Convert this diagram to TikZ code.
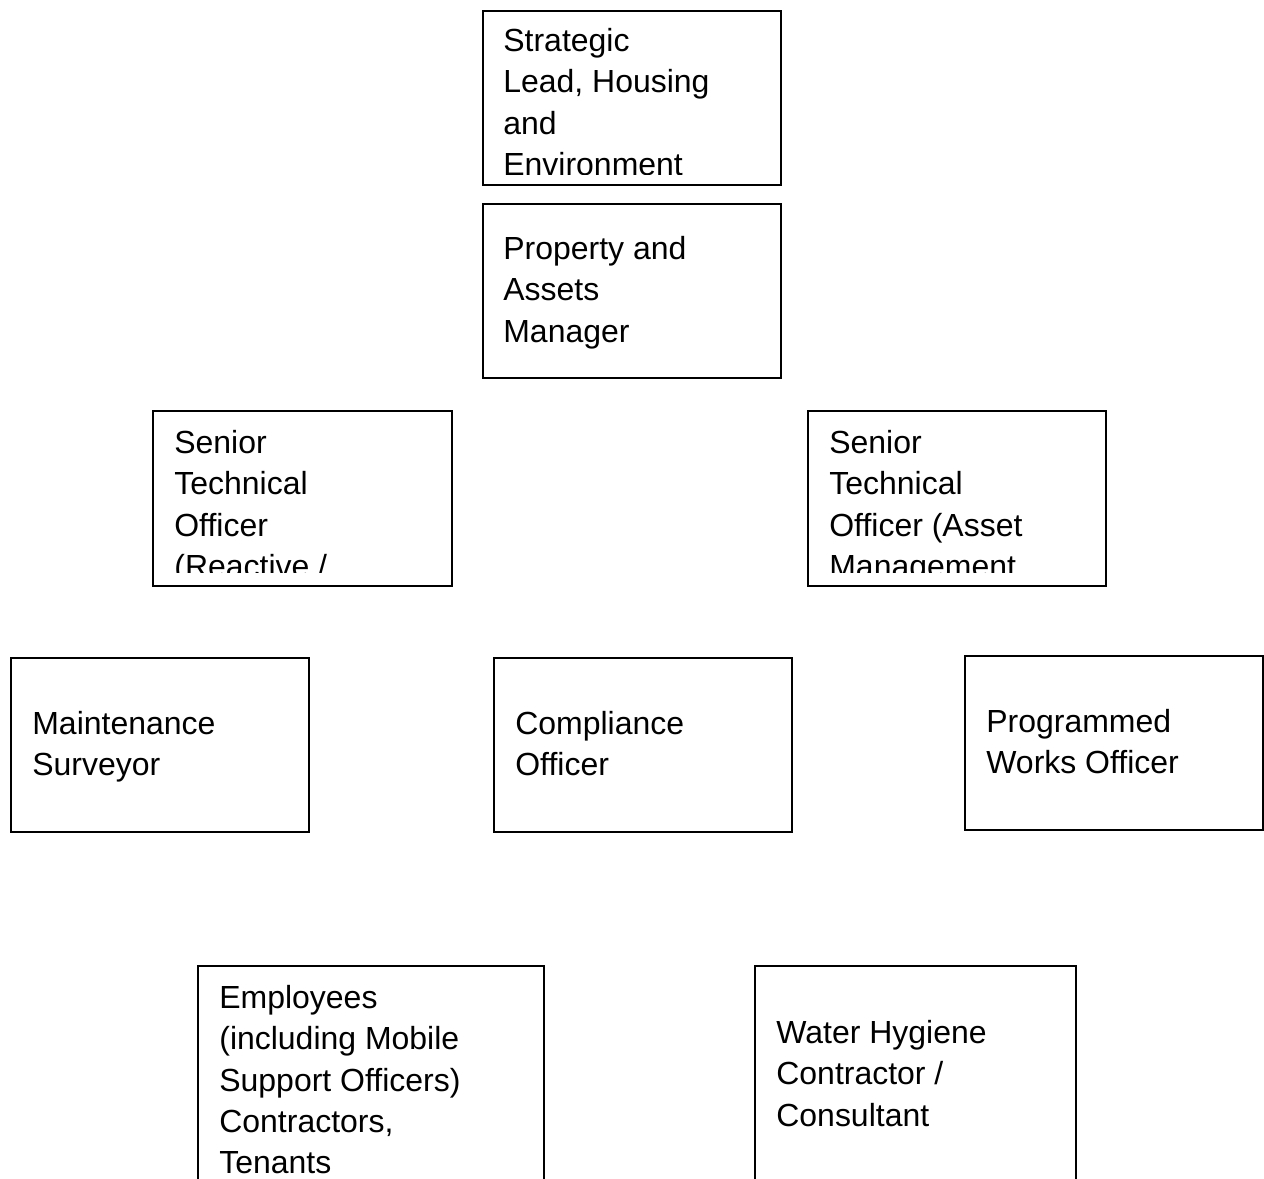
\documentclass[tikz,border=0pt]{standalone}
\usepackage{fontspec}
\setmainfont{Liberation Sans}
\tikzset{
  orgbox/.style={draw=black,line width=1.1pt},
  orgtext/.style={anchor=north west,inner sep=0pt,align=left,
    font=\fontsize{18.2}{23.5}\selectfont}
}
\begin{document}
\begin{tikzpicture}[x=0.02cm,y=-0.02cm]
  \useasboundingbox (0,0) rectangle (1264,1178);
  \clip (0,0) rectangle (1264,1178);
  % top of the chart
  \draw[orgbox] (483,11) rectangle (781,185);
  \begin{scope}
    \clip (483,11) rectangle (781,174.5);
    \node[orgtext] (strategic) at (503,28) {Strategic\\Lead, Housing\\and\\Environment};
  \end{scope}
  \draw[orgbox] (483,204) rectangle (781,378);
  \node[orgtext] (propmgr) at (503,236) {Property and\\Assets\\Manager};
  % senior officers
  \draw[orgbox] (153,411) rectangle (452,586);
  \begin{scope}
    \clip (153,411) rectangle (452,572);
    \node[orgtext] (stoReactive) at (174,430) {Senior\\Technical\\Officer\\(Reactive /};
  \end{scope}
  \draw[orgbox] (808,411) rectangle (1106,586);
  \begin{scope}
    \clip (808,411) rectangle (1106,572);
    \node[orgtext] (stoAsset) at (829,430) {Senior\\Technical\\Officer (Asset\\Management};
  \end{scope}
  % officers
  \draw[orgbox] (11,658) rectangle (309,832);
  \node[orgtext] (maintSurv) at (32,711) {Maintenance\\Surveyor};
  \draw[orgbox] (494,658) rectangle (792,832);
  \node[orgtext] (compOff) at (515,711) {Compliance\\Officer};
  \draw[orgbox] (965,656) rectangle (1263,830);
  \node[orgtext] (progWorks) at (986,709) {Programmed\\Works Officer};
  % bottom row, running off the page
  \draw[orgbox] (198,1200) |- (544,966) -- (544,1200);
  \node[orgtext] (employees) at (219,985) {Employees\\(including Mobile\\Support Officers)\\Contractors,\\Tenants};
  \draw[orgbox] (755,1200) |- (1076,966) -- (1076,1200);
  \node[orgtext] (waterHyg) at (776,1020) {Water Hygiene\\Contractor /\\Consultant};
\end{tikzpicture}
\end{document}
